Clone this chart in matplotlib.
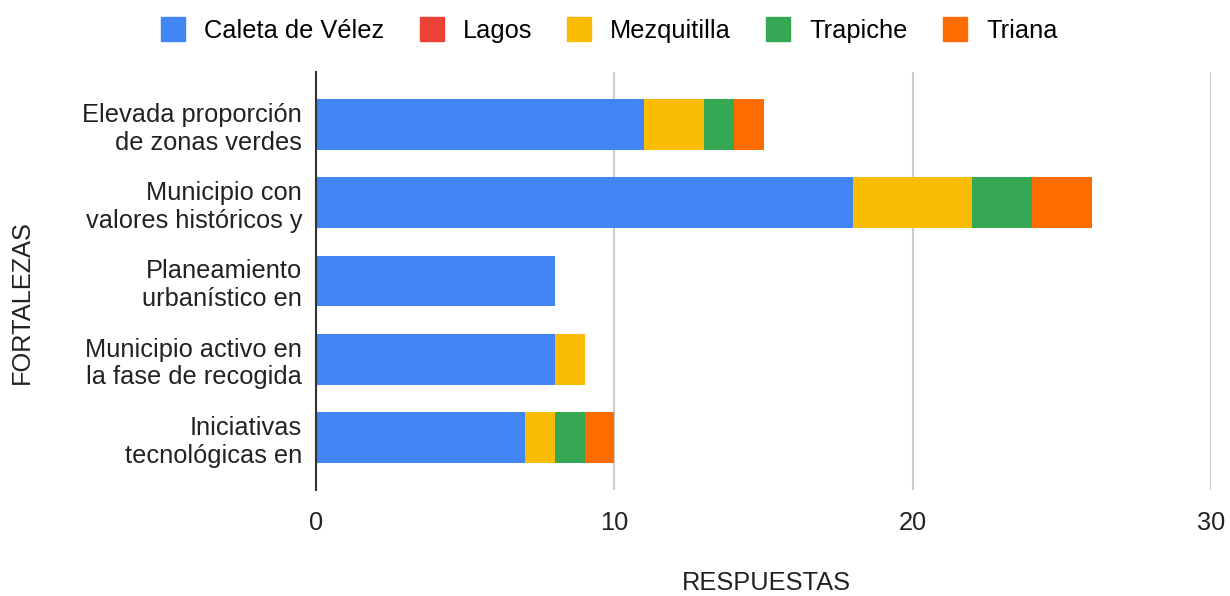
import numpy as np
import matplotlib.pyplot as plt
from matplotlib.lines import Line2D

plt.rcParams['font.family'] = ['Liberation Sans', 'DejaVu Sans']

# --- Data ---
categories = [
    "Elevada proporción\nde zonas verdes",
    "Municipio con\nvalores históricos y",
    "Planeamiento\nurbanístico en",
    "Municipio activo en\nla fase de recogida",
    "Iniciativas\ntecnológicas en",
]
series = ["Caleta de Vélez", "Lagos", "Mezquitilla", "Trapiche", "Triana"]
caleta = [11, 18, 8, 8, 7]
lagos = [0, 0, 0, 0, 0]
mezquitilla = [2, 4, 0, 1, 1]
trapiche = [1, 2, 0, 0, 1]
triana = [1, 2, 0, 0, 1]
colors = ["#4285F4", "#EA4335", "#FBBC04", "#34A853", "#FF6D01"]

values = [caleta, lagos, mezquitilla, trapiche, triana]
FS = 18.3

fig = plt.figure(figsize=(12.3, 5.96), dpi=100)
ax = fig.add_axes([316 / 1230, 1 - 490 / 596, (1211 - 316) / 1230, (490 - 72) / 596])

y = np.arange(len(categories))
left = np.zeros(len(categories))
for name, vals, col in zip(series, values, colors):
    vals = np.array(vals, dtype=float)
    ax.barh(y, vals, left=left, height=0.65, color=col, label=name, linewidth=0)
    left += vals

ax.set_ylim(4.673, -0.673)
ax.set_xlim(0, 30)
ax.set_xticks([0, 10, 20, 30])
ax.set_yticks(y)
ax.set_yticklabels(categories, fontsize=FS, linespacing=1.2, ha='right')
ax.tick_params(axis='x', labelsize=FS, length=0, pad=15, colors='#222222')
ax.tick_params(axis='y', length=0, pad=10, colors='#222222')

ax.grid(axis='x', color='#cccccc', linewidth=1.5)
ax.set_axisbelow(True)
for s in ['top', 'right', 'bottom']:
    ax.spines[s].set_visible(False)
ax.spines['left'].set_color('#333333')
ax.spines['left'].set_linewidth(1.5)
ax.spines['left'].set_zorder(5)

fig.text(766 / 1230, 1 - 583 / 596, "RESPUESTAS", ha='center', va='center',
         fontsize=FS, color='#222222')
fig.text(22 / 1230, 1 - 302 / 596, "FORTALEZAS", ha='center', va='center',
         rotation=90, fontsize=FS, color='#222222')

handles = [Line2D([], [], marker='s', linestyle='none', markersize=17,
                  markerfacecolor=c, markeredgecolor=c) for c in colors]
fig.legend(handles, series, loc='center', bbox_to_anchor=(609 / 1230, 1 - 31 / 596),
           ncol=5, frameon=False, fontsize=FS, handletextpad=0.72,
           columnspacing=1.36, handlelength=1.0)

fig.savefig("out.png", dpi=100)
